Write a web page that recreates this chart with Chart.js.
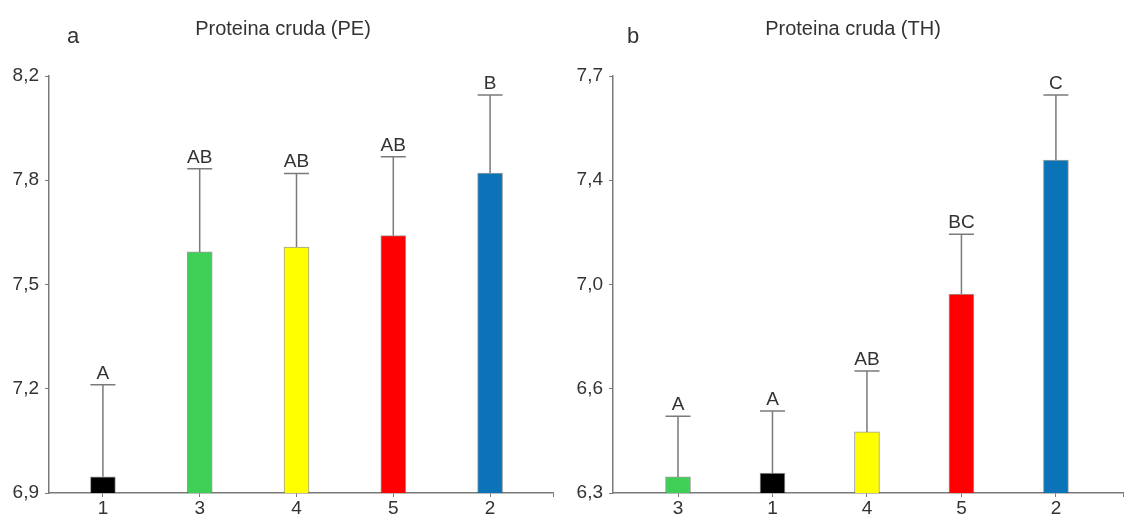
<!DOCTYPE html>
<html>
<head>
<meta charset="utf-8">
<script src="https://cdn.jsdelivr.net/npm/chart.js@4/dist/chart.umd.min.js"></script>
<style>
  html, body { margin: 0; padding: 0; background: #fff; }
  #wrap { position: relative; width: 1125px; height: 522px; overflow: hidden; }
  #cPE { position: absolute; left: 0; top: 0; }
  #cTH { position: absolute; left: 560px; top: 0; }
</style>
</head>
<body>
<div id="wrap">
  <canvas id="cPE" width="560" height="522"></canvas>
  <canvas id="cTH" width="565" height="522"></canvas>
</div>
<script>
// Panel a: crude protein, PE
const peCategories = ['1', '3', '4', '5', '2'];
const peMeans      = [6.93, 7.62, 7.635, 7.67, 7.862];
const peErrors     = [0.282, 0.255, 0.226, 0.242, 0.24];
const peLetters    = ['A', 'AB', 'AB', 'AB', 'B'];
const peTickLabels = ['6,9', '7,2', '7,5', '7,8', '8,2'];
const peColors     = ['#000000', '#3fcf57', '#ffff00', '#ff0000', '#0b74b8'];

// Panel b: crude protein, TH
const thCategories = ['3', '1', '4', '5', '2'];
const thMeans      = [6.354, 6.367, 6.505, 6.968, 7.418];
const thErrors     = [0.204, 0.208, 0.205, 0.201, 0.218];
const thLetters    = ['A', 'A', 'AB', 'BC', 'C'];
const thTickLabels = ['6,3', '6,6', '7,0', '7,4', '7,7'];
const thColors     = ['#3fcf57', '#000000', '#ffff00', '#ff0000', '#0b74b8'];

const FONT = '"Liberation Sans", Arial, sans-serif';
const TEXT = '#333333';
const AXIS = '#7a7a7a';

// Error bars with caps and significance letters above each bar
const errorBarPlugin = {
  id: 'errorBars',
  afterDatasetsDraw(chart, args, opts) {
    const ctx = chart.ctx;
    const yScale = chart.scales.y;
    const meta = chart.getDatasetMeta(0);
    ctx.save();
    meta.data.forEach((bar, i) => {
      const top = yScale.getPixelForValue(opts.means[i] + opts.errors[i]);
      const half = bar.width / 2;
      ctx.strokeStyle = AXIS;
      ctx.lineWidth = 1.5;
      ctx.beginPath();
      ctx.moveTo(bar.x, bar.y);
      ctx.lineTo(bar.x, top);
      ctx.moveTo(bar.x - half, top);
      ctx.lineTo(bar.x + half, top);
      ctx.stroke();
      ctx.fillStyle = TEXT;
      ctx.font = '19px ' + FONT;
      ctx.textAlign = 'center';
      ctx.textBaseline = 'alphabetic';
      ctx.fillText(opts.letters[i], bar.x, top - 6);
    });
    ctx.restore();
  }
};

// Panel letter and heading
const headingPlugin = {
  id: 'heading',
  afterDraw(chart, args, opts) {
    const ctx = chart.ctx;
    ctx.save();
    ctx.fillStyle = TEXT;
    ctx.textBaseline = 'middle';
    ctx.textAlign = 'center';
    ctx.font = '20px ' + FONT;
    ctx.fillText(opts.title, opts.titleX, opts.titleY);
    ctx.font = '22px ' + FONT;
    ctx.fillText(opts.letter, opts.letterX, opts.letterY);
    ctx.restore();
  }
};

function makeChart(canvasId, cfg) {
  const n = cfg.tickLabels.length;
  return new Chart(document.getElementById(canvasId), {
    type: 'bar',
    data: {
      datasets: [{
        data: cfg.means.map((v, i) => ({ x: i + 1, y: v })),
        backgroundColor: cfg.colors,
        borderColor: 'rgba(40,40,40,0.45)',
        borderWidth: 1,
        barThickness: 25
      }]
    },
    options: {
      responsive: false,
      animation: false,
      layout: { padding: { top: 76, right: cfg.padRight, left: 0, bottom: 0 } },
      plugins: {
        legend: { display: false },
        tooltip: { enabled: false },
        errorBars: { means: cfg.means, errors: cfg.errors, letters: cfg.letters },
        heading: cfg.heading
      },
      scales: {
        x: {
          type: 'linear',
          offset: false,
          min: cfg.xMin,
          max: cfg.xMax,
          afterBuildTicks: s => {
            s.ticks = cfg.categories.map((c, i) => ({ value: i + 1 }));
            s.ticks.push({ value: cfg.xMax });
          },
          afterFit: s => { s.height = 29; },
          ticks: {
            autoSkip: false,
            maxRotation: 0,
            padding: 0,
            color: TEXT,
            font: { family: FONT, size: 19 },
            callback: (v, i) => (i < cfg.categories.length ? cfg.categories[i] : '')
          },
          grid: { offset: false, drawOnChartArea: false, drawTicks: true, tickLength: 4, color: AXIS },
          border: { color: AXIS, width: 1.5 }
        },
        y: {
          min: cfg.yMin,
          max: cfg.yMax,
          afterBuildTicks: s => {
            s.ticks = cfg.tickLabels.map((t, i) => ({ value: cfg.yMin + i * (cfg.yMax - cfg.yMin) / (n - 1) }));
          },
          afterFit: s => { s.width = cfg.yAxisWidth; },
          ticks: {
            padding: 6,
            color: TEXT,
            font: { family: FONT, size: 19 },
            callback: (v, i) => cfg.tickLabels[i]
          },
          grid: { drawOnChartArea: false, drawTicks: true, tickLength: 4, color: AXIS },
          border: { color: AXIS, width: 1.5 }
        }
      }
    },
    plugins: [errorBarPlugin, headingPlugin]
  });
}

makeChart('cPE', {
  categories: peCategories, means: peMeans, errors: peErrors, letters: peLetters,
  tickLabels: peTickLabels, colors: peColors,
  yMin: 6.88, yMax: 8.16, xMin: 0.443, xMax: 5.65,
  yAxisWidth: 49, padRight: 7,
  heading: { title: 'Proteina cruda (PE)', titleX: 283, titleY: 29, letter: 'a', letterX: 73, letterY: 37 }
});

makeChart('cTH', {
  categories: thCategories, means: thMeans, errors: thErrors, letters: thLetters,
  tickLabels: thTickLabels, colors: thColors,
  yMin: 6.3, yMax: 7.7, xMin: 0.312, xMax: 5.71,
  yAxisWidth: 53, padRight: 2,
  heading: { title: 'Proteina cruda (TH)', titleX: 293, titleY: 29, letter: 'b', letterX: 73, letterY: 37 }
});
</script>
</body>
</html>
